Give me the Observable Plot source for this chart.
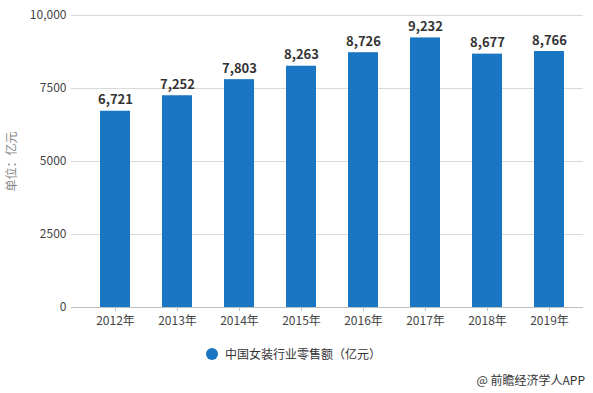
<!DOCTYPE html>
<html>
<head>
<meta charset="utf-8">
<script src="https://cdn.jsdelivr.net/npm/d3@7"></script>
<script src="https://cdn.jsdelivr.net/npm/@observablehq/plot@0.6"></script>
<style>
  body { margin: 0; background: #fff; font-family: "Noto Sans CJK SC", "Noto Sans", sans-serif; }
  #wrap { position: relative; width: 593px; height: 393px; }
  #legend { position: absolute; left: 206px; top: 345px; font-size: 12px; color: #333; display: flex; align-items: center; }
  #legend .dot { width: 12px; height: 12px; border-radius: 50%; background: #1976c3; margin-right: 7px; }
  #caption { position: absolute; right: 8px; top: 371px; font-size: 12px; color: #333; }
</style>
</head>
<body>
<div id="wrap">
  <div id="chart"></div>
  <div id="legend"><span class="dot"></span><span>中国女装行业零售额（亿元）</span></div>
  <div id="caption">@ 前瞻经济学人APP</div>
</div>
<script>
const years = ["2012年", "2013年", "2014年", "2015年", "2016年", "2017年", "2018年", "2019年"];
const sales = [6721, 7252, 7803, 8263, 8726, 9232, 8677, 8766];
const yTicks = [0, 2500, 5000, 7500, 10000];
const seriesName = "中国女装行业零售额（亿元）";
const yLabel = "单位：亿元";

const data = years.map((y, i) => ({year: y, value: sales[i]}));
const color = "#1976c3";

const chart = Plot.plot({
  width: 593,
  height: 338,
  marginTop: 15,
  marginBottom: 31,
  marginLeft: 80,
  marginRight: 10,
  style: {fontFamily: '"Noto Sans CJK SC", "Noto Sans", sans-serif', fontSize: "12px", color: "#333", background: "transparent"},
  x: {domain: years, paddingInner: 0.52, paddingOuter: 0.26, label: null},
  y: {domain: [0, 10000], label: null},
  marks: [
    Plot.ruleY(yTicks.filter(d => d > 0), {stroke: "#d9d9d9", strokeOpacity: 1, insetLeft: -9}),
    Plot.barY(data, {x: "year", y: "value", fill: color}),
    Plot.ruleY([0], {stroke: "#bfbfbf", strokeOpacity: 1, insetLeft: -9}),
    Plot.text(data, {x: "year", y: "value", text: d => d3.format(",")(d.value), dy: -11, fontWeight: "bold", fontSize: 13, fill: "#333"}),
    Plot.axisY({ticks: yTicks, tickSize: 0, tickPadding: 14, tickFormat: d => d >= 10000 ? d3.format(",")(d) : String(d), fontSize: 12, color: "#444", label: null}),
    Plot.axisX({tickSize: 4, tickPadding: 5, fontSize: 12, color: "#444", stroke: "#bfbfbf", label: null}),
    Plot.text([yLabel], {frameAnchor: "left", textAnchor: "middle", dx: -68, rotate: -90, fontSize: 12, fill: "#888"})
  ]
});
document.getElementById("chart").appendChild(chart);
</script>
</body>
</html>
